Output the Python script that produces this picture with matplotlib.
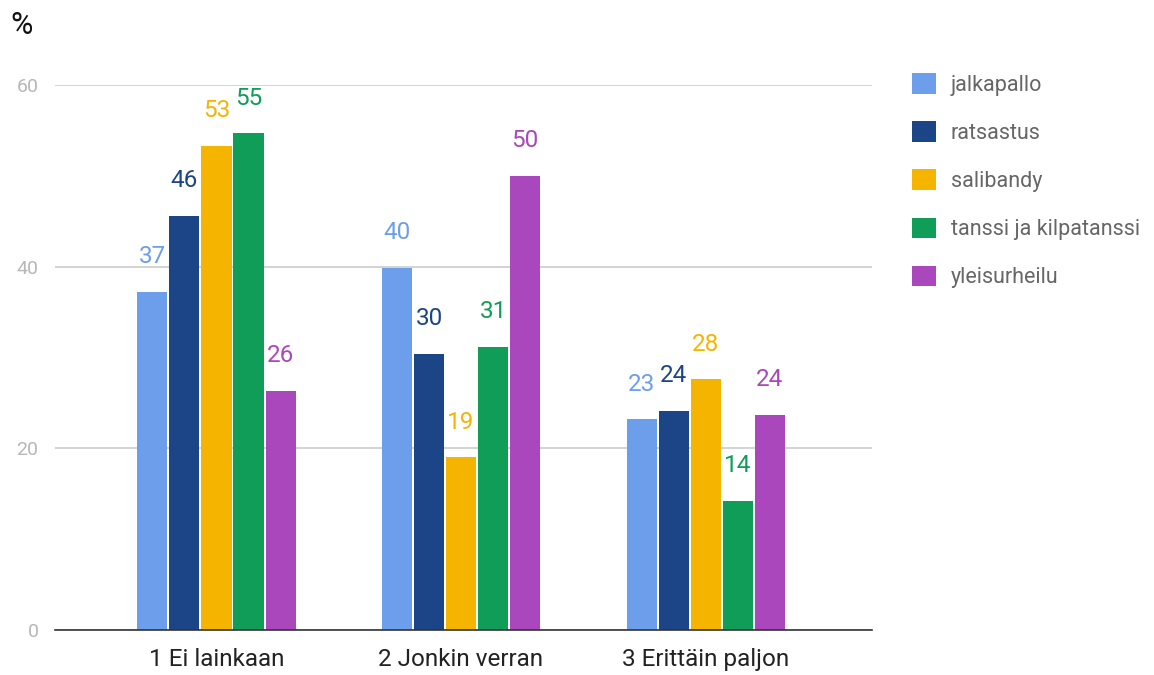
import matplotlib.pyplot as plt
import numpy as np
from matplotlib.patches import Patch

plt.rcParams['font.family'] = ['Roboto', 'DejaVu Sans']

categories = ['1 Ei lainkaan', '2 Jonkin verran', '3 Erittäin paljon']
series = ['jalkapallo', 'ratsastus', 'salibandy', 'tanssi ja kilpatanssi', 'yleisurheilu']
jalkapallo = [37.2, 39.9, 23.2]
ratsastus = [45.6, 30.4, 24.1]
salibandy = [53.3, 19.0, 27.6]
tanssi = [54.7, 31.2, 14.2]
yleisurheilu = [26.3, 50.0, 23.7]
values = [jalkapallo, ratsastus, salibandy, tanssi, yleisurheilu]
colors = ['#6d9eeb', '#1c4587', '#f4b400', '#0f9d58', '#ab47bc']

fig = plt.figure(figsize=(11.54, 6.75), dpi=100)
ax = fig.add_axes([0.0477, 0.0667, 0.7079, 0.8074])

x = np.arange(len(categories))
step = 0.131
width = 0.123
for i, (name, vals, c) in enumerate(zip(series, values, colors)):
    pos = x + (i - 2) * step
    ax.bar(pos, vals, width=width, color=c, zorder=3)
    for px, v in zip(pos, vals):
        ax.annotate(f'{v:.0f}', (px, v), xytext=(0, 17), textcoords='offset points',
                    ha='center', va='bottom', fontsize=17.5, color=c)

ax.set_xlim(-0.66, 2.68)
ax.set_ylim(0, 60)
ax.set_yticks([0, 20, 40, 60])
ax.set_xticks(x)
ax.set_xticklabels(categories, fontsize=17.5, color='#222222')
ax.tick_params(axis='x', length=0, pad=13)
ax.tick_params(axis='y', length=0, pad=12, labelsize=14, labelcolor='#b7b7b7')
ax.grid(axis='y', color='#cccccc', linewidth=1.2, zorder=0)
for s in ['top', 'right', 'left']:
    ax.spines[s].set_visible(False)
ax.spines['bottom'].set_color('#333333')
ax.spines['bottom'].set_linewidth(1.2)
ax.spines['bottom'].set_zorder(4)

fig.text(0.009, 0.962, '%', fontsize=22, va='center', ha='left', color='#111111')

handles = [Patch(facecolor=c, edgecolor='none') for c in colors]
fig.legend(handles, series, loc='upper left', bbox_to_anchor=(0.7735, 0.92),
           frameon=False, fontsize=15.5, labelcolor='#666666', handlelength=1.1,
           handleheight=1.1, handletextpad=0.7, labelspacing=1.18)

fig.savefig('out.png', dpi=100)
